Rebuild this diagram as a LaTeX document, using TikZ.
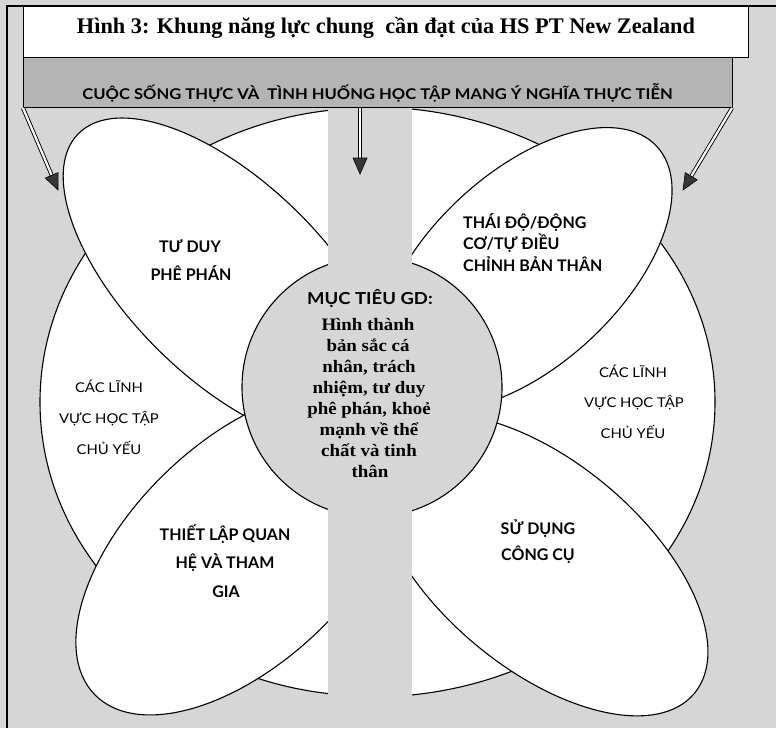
\documentclass[tikz,border=0pt]{standalone}
\usepackage{fontspec}
\setmainfont{Liberation Serif}
\newfontfamily\gothic[FakeStretch=1.12]{Lato}
\newfontfamily\gothicb{Lato}
\newfontfamily\gothicw[FakeStretch=1.1]{Lato}
\newfontfamily\circserif[FakeStretch=1.08]{Liberation Serif}
\usetikzlibrary{arrows.meta,calc}
\definecolor{bggray}{RGB}{214,214,214}
\definecolor{bannergray}{RGB}{180,180,180}
\definecolor{headgray}{RGB}{55,55,55}
\tikzset{
  shapeline/.style={draw=black, line width=1.1pt, fill=white},
  lblb/.style={font=\gothicb\bfseries\fontsize{16}{18}\selectfont, anchor=base, inner sep=0pt},
  lblr/.style={font=\gothicw\fontsize{13.5}{16}\selectfont, anchor=base, inner sep=0pt},
  circs/.style={font=\gothic\bfseries\fontsize{16.5}{19}\selectfont, anchor=base, inner sep=0pt},
  circt/.style={font=\circserif\bfseries\fontsize{17.5}{20}\selectfont, anchor=base, inner sep=0pt},
  dblshaft/.style={draw=black, line width=0.9pt, double=white, double distance=2.2pt},
  headfill/.style={fill=headgray, draw=black, line width=0.6pt, line join=miter},
}
\begin{document}
\begin{tikzpicture}[x=1pt,y=-1pt]
\useasboundingbox (0,0) rectangle (776,728);
\fill[bggray] (0,0) rectangle (776,728);
% outer frame
\draw[line width=1.3pt] (7,728) -- (7,6) -- (776,6);
% big half ellipses
\draw[shapeline] (371,108) arc[start angle=90, end angle=270, x radius=331pt, y radius=294pt] -- cycle;
\draw[shapeline] (371,107) arc[start angle=90, end angle=-90, x radius=344pt, y radius=295pt] -- cycle;
% petals
\draw[shapeline, rotate around={-44.5:(228,281)}] (228,281) ellipse[x radius=210pt, y radius=98pt];
\draw[shapeline, rotate around={43:(525,269)}] (525,269) ellipse[x radius=180pt, y radius=96pt];
\draw[shapeline, rotate around={44:(242,552)}] (242,552) ellipse[x radius=205pt, y radius=110pt];
\draw[shapeline, rotate around={-40:(541,565)}] (541,565) ellipse[x radius=200pt, y radius=103pt];
% central circle
\draw[line width=1.1pt, fill=bggray] (372,387) circle[radius=130pt];
% central strip
\fill[bggray] (328,107) rectangle (412,728);
% title and banner
\node[draw=black, line width=1.1pt, fill=white, minimum width=725pt, minimum height=51pt, inner sep=0pt, anchor=north west] (titlebox) at (23,6) {};
\node[draw=black, line width=1.1pt, fill=bannergray, minimum width=709pt, minimum height=50pt, inner sep=0pt, anchor=north west] (banner) at (23,57) {};
\node[font=\bfseries\fontsize{22.3}{25}\selectfont, anchor=base, inner sep=0pt] (title) at (386,33) {Hình 3: Khung năng lực chung\ \ cần đạt của HS PT New Zealand};
\node[font=\gothic\bfseries\fontsize{14.8}{17}\selectfont, anchor=base, inner sep=0pt] (bannertext) at (377.5,99) {CUỘC SỐNG THỰC VÀ\ \ TÌNH HUỐNG HỌC TẬP MANG Ý NGHĨA THỰC TIỄN};
% arrows
\coordinate (aLs) at (23,108);
\coordinate (aLe) at (58,190);
\coordinate (aCs) at (360,108);
\coordinate (aCe) at (360,174);
\coordinate (aRs) at (732,108);
\coordinate (aRe) at (683,190);
\coordinate (aLb) at ($(aLe)!16pt!(aLs)$);
\coordinate (aCb) at ($(aCe)!16pt!(aCs)$);
\coordinate (aRb) at ($(aRe)!16pt!(aRs)$);
\draw[dblshaft] (aLs) -- (aLb);
\draw[dblshaft] (aCs) -- (aCb);
\draw[dblshaft] (aRs) -- (aRb);
\draw[headfill] (aLe) -- ($(aLb)!7pt!90:(aLe)$) -- ($(aLb)!7pt!-90:(aLe)$) -- cycle;
\draw[headfill] (aCe) -- ($(aCb)!7pt!90:(aCe)$) -- ($(aCb)!7pt!-90:(aCe)$) -- cycle;
\draw[headfill] (aRe) -- ($(aRb)!7pt!90:(aRe)$) -- ($(aRb)!7pt!-90:(aRe)$) -- cycle;
% petal labels
\node[lblb] (tl1) at (190,252) {TƯ DUY};
\node[lblb] (tl2) at (191,280) {PHÊ PHÁN};
\node[lblb, anchor=base west] (tr1) at (463,228) {THÁI ĐỘ/ĐỘNG};
\node[lblb, anchor=base west] (tr2) at (463,249.5) {CƠ/TỰ ĐIỀU};
\node[lblb, anchor=base west] (tr3) at (463,271) {CHỈNH BẢN THÂN};
\node[lblb] (bl1) at (225,540) {THIẾT LẬP QUAN};
\node[lblb] (bl2) at (225,568.5) {HỆ VÀ THAM};
\node[lblb] (bl3) at (226,597) {GIA};
\node[lblb] (br1) at (538,534) {SỬ DỤNG};
\node[lblb] (br2) at (538,560) {CÔNG CỤ};
% learning areas
\node[lblr] (ll1) at (109,392) {CÁC LĨNH};
\node[lblr] (ll2) at (109,423) {VỰC HỌC TẬP};
\node[lblr] (ll3) at (109,454) {CHỦ YẾU};
\node[lblr] (rl1) at (633,377) {CÁC LĨNH};
\node[lblr] (rl2) at (634,407) {VỰC HỌC TẬP};
\node[lblr] (rl3) at (633,438) {CHỦ YẾU};
% circle text
\node[circs] (c0) at (370,304) {MỤC TIÊU GD:};
\node[circt] (c1) at (368,330) {Hình thành};
\node[circt] (c2) at (368,351) {bản sắc cá};
\node[circt] (c3) at (369,372) {nhân, trách};
\node[circt] (c4) at (369,393) {nhiệm, tư duy};
\node[circt] (c5) at (369,414) {phê phán, khoẻ};
\node[circt] (c6) at (369,435) {mạnh về thể};
\node[circt] (c7) at (369,456) {chất và tinh};
\node[circt] (c8) at (370,477) {thân};
\end{tikzpicture}
\end{document}
